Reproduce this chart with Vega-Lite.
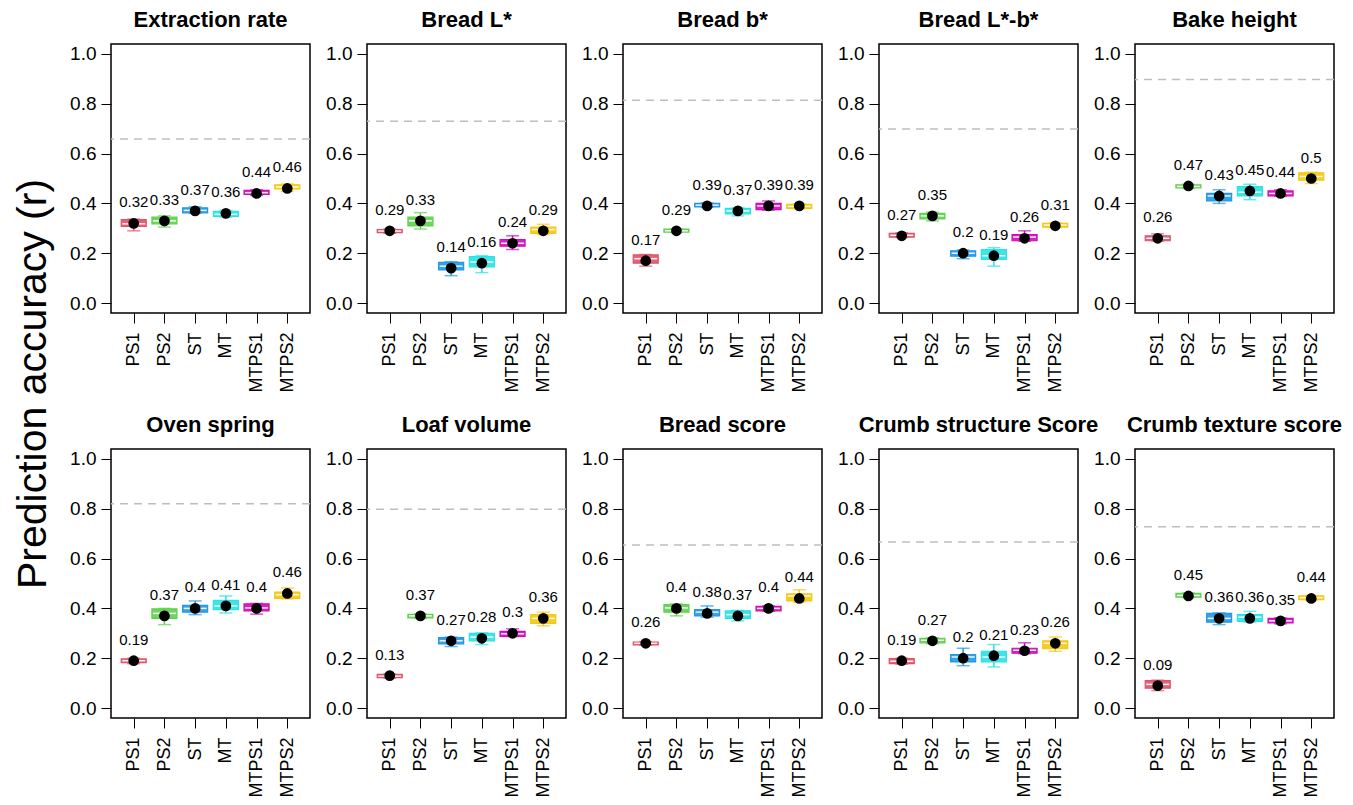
{
  "$schema": "https://vega.github.io/schema/vega-lite/v6.json",
  "background": "white",
  "padding": {"left": 12, "top": 8, "right": 5, "bottom": 2},
  "title": {"text": "Prediction accuracy (r)", "orient": "left", "anchor": "middle", "fontSize": 41, "fontWeight": "normal", "font": "Liberation Sans", "color": "black", "offset": 14, "dx": 19},
  "config": {
    "font": "Liberation Sans",
    "view": {"stroke": "black", "strokeWidth": 1.5},
    "axis": {"labelColor": "black", "tickColor": "black", "labelFont": "Liberation Sans", "grid": false, "domain": false}
  },
  "data": {"values": [
    {"trait": "Extraction rate", "model": "PS1", "lo": 0.29, "q1": 0.308, "med": 0.318, "q3": 0.335, "hi": 0.337, "mean": 0.32, "h": 0.659},
    {"trait": "Extraction rate", "model": "PS2", "lo": 0.305, "q1": 0.318, "med": 0.33, "q3": 0.345, "hi": 0.35, "mean": 0.33, "h": 0.659},
    {"trait": "Extraction rate", "model": "ST", "lo": 0.36, "q1": 0.362, "med": 0.372, "q3": 0.382, "hi": 0.386, "mean": 0.37, "h": 0.659},
    {"trait": "Extraction rate", "model": "MT", "lo": 0.345, "q1": 0.348, "med": 0.356, "q3": 0.368, "hi": 0.372, "mean": 0.36, "h": 0.659},
    {"trait": "Extraction rate", "model": "MTPS1", "lo": 0.432, "q1": 0.436, "med": 0.443, "q3": 0.452, "hi": 0.455, "mean": 0.44, "h": 0.659},
    {"trait": "Extraction rate", "model": "MTPS2", "lo": 0.448, "q1": 0.458, "med": 0.466, "q3": 0.475, "hi": 0.478, "mean": 0.46, "h": 0.659},

    {"trait": "Bread L*", "model": "PS1", "lo": 0.28, "q1": 0.283, "med": 0.289, "q3": 0.295, "hi": 0.297, "mean": 0.29, "h": 0.73},
    {"trait": "Bread L*", "model": "PS2", "lo": 0.297, "q1": 0.31, "med": 0.33, "q3": 0.345, "hi": 0.363, "mean": 0.33, "h": 0.73},
    {"trait": "Bread L*", "model": "ST", "lo": 0.11, "q1": 0.133, "med": 0.148, "q3": 0.163, "hi": 0.166, "mean": 0.14, "h": 0.73},
    {"trait": "Bread L*", "model": "MT", "lo": 0.122, "q1": 0.145, "med": 0.165, "q3": 0.186, "hi": 0.19, "mean": 0.16, "h": 0.73},
    {"trait": "Bread L*", "model": "MTPS1", "lo": 0.215, "q1": 0.228, "med": 0.24, "q3": 0.255, "hi": 0.27, "mean": 0.24, "h": 0.73},
    {"trait": "Bread L*", "model": "MTPS2", "lo": 0.275, "q1": 0.28, "med": 0.295, "q3": 0.305, "hi": 0.316, "mean": 0.29, "h": 0.73},

    {"trait": "Bread b*", "model": "PS1", "lo": 0.148, "q1": 0.16, "med": 0.178, "q3": 0.193, "hi": 0.195, "mean": 0.17, "h": 0.814},
    {"trait": "Bread b*", "model": "PS2", "lo": 0.283, "q1": 0.285, "med": 0.29, "q3": 0.297, "hi": 0.298, "mean": 0.29, "h": 0.814},
    {"trait": "Bread b*", "model": "ST", "lo": 0.384, "q1": 0.386, "med": 0.393, "q3": 0.4, "hi": 0.402, "mean": 0.39, "h": 0.814},
    {"trait": "Bread b*", "model": "MT", "lo": 0.35, "q1": 0.358, "med": 0.37, "q3": 0.38, "hi": 0.382, "mean": 0.37, "h": 0.814},
    {"trait": "Bread b*", "model": "MTPS1", "lo": 0.373, "q1": 0.375, "med": 0.39, "q3": 0.4, "hi": 0.41, "mean": 0.39, "h": 0.814},
    {"trait": "Bread b*", "model": "MTPS2", "lo": 0.378, "q1": 0.38, "med": 0.388, "q3": 0.396, "hi": 0.398, "mean": 0.39, "h": 0.814},

    {"trait": "Bread L*-b*", "model": "PS1", "lo": 0.263, "q1": 0.265, "med": 0.272, "q3": 0.28, "hi": 0.282, "mean": 0.27, "h": 0.699},
    {"trait": "Bread L*-b*", "model": "PS2", "lo": 0.33, "q1": 0.338, "med": 0.35, "q3": 0.36, "hi": 0.365, "mean": 0.35, "h": 0.699},
    {"trait": "Bread L*-b*", "model": "ST", "lo": 0.178, "q1": 0.188, "med": 0.2, "q3": 0.21, "hi": 0.213, "mean": 0.2, "h": 0.699},
    {"trait": "Bread L*-b*", "model": "MT", "lo": 0.148, "q1": 0.175, "med": 0.19, "q3": 0.215, "hi": 0.222, "mean": 0.19, "h": 0.699},
    {"trait": "Bread L*-b*", "model": "MTPS1", "lo": 0.248, "q1": 0.25, "med": 0.265, "q3": 0.275, "hi": 0.29, "mean": 0.26, "h": 0.699},
    {"trait": "Bread L*-b*", "model": "MTPS2", "lo": 0.303, "q1": 0.305, "med": 0.313, "q3": 0.32, "hi": 0.322, "mean": 0.31, "h": 0.699},

    {"trait": "Bake height", "model": "PS1", "lo": 0.248, "q1": 0.25, "med": 0.26, "q3": 0.27, "hi": 0.278, "mean": 0.26, "h": 0.897},
    {"trait": "Bake height", "model": "PS2", "lo": 0.46, "q1": 0.462, "med": 0.468, "q3": 0.475, "hi": 0.477, "mean": 0.47, "h": 0.897},
    {"trait": "Bake height", "model": "ST", "lo": 0.4, "q1": 0.41, "med": 0.43, "q3": 0.44, "hi": 0.455, "mean": 0.43, "h": 0.897},
    {"trait": "Bake height", "model": "MT", "lo": 0.415, "q1": 0.43, "med": 0.445, "q3": 0.467, "hi": 0.477, "mean": 0.45, "h": 0.897},
    {"trait": "Bake height", "model": "MTPS1", "lo": 0.428, "q1": 0.43, "med": 0.44, "q3": 0.45, "hi": 0.455, "mean": 0.44, "h": 0.897},
    {"trait": "Bake height", "model": "MTPS2", "lo": 0.48, "q1": 0.493, "med": 0.508, "q3": 0.523, "hi": 0.525, "mean": 0.5, "h": 0.897},

    {"trait": "Oven spring", "model": "PS1", "lo": 0.178, "q1": 0.182, "med": 0.19, "q3": 0.197, "hi": 0.2, "mean": 0.19, "h": 0.82},
    {"trait": "Oven spring", "model": "PS2", "lo": 0.335, "q1": 0.36, "med": 0.38, "q3": 0.398, "hi": 0.4, "mean": 0.37, "h": 0.82},
    {"trait": "Oven spring", "model": "ST", "lo": 0.375, "q1": 0.385, "med": 0.4, "q3": 0.412, "hi": 0.43, "mean": 0.4, "h": 0.82},
    {"trait": "Oven spring", "model": "MT", "lo": 0.382, "q1": 0.395, "med": 0.41, "q3": 0.432, "hi": 0.45, "mean": 0.41, "h": 0.82},
    {"trait": "Oven spring", "model": "MTPS1", "lo": 0.377, "q1": 0.39, "med": 0.402, "q3": 0.418, "hi": 0.42, "mean": 0.4, "h": 0.82},
    {"trait": "Oven spring", "model": "MTPS2", "lo": 0.438, "q1": 0.44, "med": 0.455, "q3": 0.465, "hi": 0.482, "mean": 0.46, "h": 0.82},

    {"trait": "Loaf volume", "model": "PS1", "lo": 0.12, "q1": 0.122, "med": 0.128, "q3": 0.135, "hi": 0.136, "mean": 0.13, "h": 0.798},
    {"trait": "Loaf volume", "model": "PS2", "lo": 0.36, "q1": 0.362, "med": 0.37, "q3": 0.376, "hi": 0.378, "mean": 0.37, "h": 0.798},
    {"trait": "Loaf volume", "model": "ST", "lo": 0.247, "q1": 0.258, "med": 0.27, "q3": 0.283, "hi": 0.285, "mean": 0.27, "h": 0.798},
    {"trait": "Loaf volume", "model": "MT", "lo": 0.255, "q1": 0.27, "med": 0.285, "q3": 0.3, "hi": 0.302, "mean": 0.28, "h": 0.798},
    {"trait": "Loaf volume", "model": "MTPS1", "lo": 0.287, "q1": 0.288, "med": 0.298, "q3": 0.308, "hi": 0.318, "mean": 0.3, "h": 0.798},
    {"trait": "Loaf volume", "model": "MTPS2", "lo": 0.33, "q1": 0.34, "med": 0.36, "q3": 0.375, "hi": 0.385, "mean": 0.36, "h": 0.798},

    {"trait": "Bread score", "model": "PS1", "lo": 0.252, "q1": 0.253, "med": 0.26, "q3": 0.265, "hi": 0.267, "mean": 0.26, "h": 0.655},
    {"trait": "Bread score", "model": "PS2", "lo": 0.37, "q1": 0.385, "med": 0.402, "q3": 0.415, "hi": 0.418, "mean": 0.4, "h": 0.655},
    {"trait": "Bread score", "model": "ST", "lo": 0.365, "q1": 0.37, "med": 0.385, "q3": 0.395, "hi": 0.41, "mean": 0.38, "h": 0.655},
    {"trait": "Bread score", "model": "MT", "lo": 0.35, "q1": 0.36, "med": 0.375, "q3": 0.39, "hi": 0.392, "mean": 0.37, "h": 0.655},
    {"trait": "Bread score", "model": "MTPS1", "lo": 0.388, "q1": 0.39, "med": 0.4, "q3": 0.408, "hi": 0.41, "mean": 0.4, "h": 0.655},
    {"trait": "Bread score", "model": "MTPS2", "lo": 0.425, "q1": 0.43, "med": 0.45, "q3": 0.458, "hi": 0.475, "mean": 0.44, "h": 0.655},

    {"trait": "Crumb structure Score", "model": "PS1", "lo": 0.176, "q1": 0.178, "med": 0.188, "q3": 0.198, "hi": 0.2, "mean": 0.19, "h": 0.667},
    {"trait": "Crumb structure Score", "model": "PS2", "lo": 0.258, "q1": 0.262, "med": 0.272, "q3": 0.28, "hi": 0.282, "mean": 0.27, "h": 0.667},
    {"trait": "Crumb structure Score", "model": "ST", "lo": 0.17, "q1": 0.185, "med": 0.205, "q3": 0.215, "hi": 0.24, "mean": 0.2, "h": 0.667},
    {"trait": "Crumb structure Score", "model": "MT", "lo": 0.165, "q1": 0.185, "med": 0.205, "q3": 0.228, "hi": 0.255, "mean": 0.21, "h": 0.667},
    {"trait": "Crumb structure Score", "model": "MTPS1", "lo": 0.218, "q1": 0.22, "med": 0.232, "q3": 0.24, "hi": 0.262, "mean": 0.23, "h": 0.667},
    {"trait": "Crumb structure Score", "model": "MTPS2", "lo": 0.228, "q1": 0.238, "med": 0.26, "q3": 0.27, "hi": 0.285, "mean": 0.26, "h": 0.667},

    {"trait": "Crumb texture score", "model": "PS1", "lo": 0.07, "q1": 0.08, "med": 0.095, "q3": 0.11, "hi": 0.112, "mean": 0.09, "h": 0.728},
    {"trait": "Crumb texture score", "model": "PS2", "lo": 0.443, "q1": 0.445, "med": 0.452, "q3": 0.46, "hi": 0.462, "mean": 0.45, "h": 0.728},
    {"trait": "Crumb texture score", "model": "ST", "lo": 0.335, "q1": 0.345, "med": 0.36, "q3": 0.38, "hi": 0.382, "mean": 0.36, "h": 0.728},
    {"trait": "Crumb texture score", "model": "MT", "lo": 0.345, "q1": 0.348, "med": 0.365, "q3": 0.375, "hi": 0.388, "mean": 0.36, "h": 0.728},
    {"trait": "Crumb texture score", "model": "MTPS1", "lo": 0.338, "q1": 0.342, "med": 0.35, "q3": 0.36, "hi": 0.362, "mean": 0.35, "h": 0.728},
    {"trait": "Crumb texture score", "model": "MTPS2", "lo": 0.433, "q1": 0.435, "med": 0.443, "q3": 0.45, "hi": 0.452, "mean": 0.44, "h": 0.728}
  ]},
  "facet": {
    "field": "trait", "type": "nominal",
    "sort": ["Extraction rate", "Bread L*", "Bread b*", "Bread L*-b*", "Bake height", "Oven spring", "Loaf volume", "Bread score", "Crumb structure Score", "Crumb texture score"],
    "header": {"title": null, "labelFontSize": 22, "labelFontWeight": "bold", "labelFont": "Liberation Sans", "labelColor": "black", "labelPadding": 12}
  },
  "columns": 5,
  "bounds": "flush",
  "spacing": {"column": 57, "row": 136},
  "resolve": {"axis": {"x": "independent", "y": "independent"}},
  "spec": {
    "width": 199,
    "height": 269,
    "encoding": {
      "x": {"field": "model", "type": "nominal", "sort": ["PS1", "PS2", "ST", "MT", "MTPS1", "MTPS2"],
            "scale": {"type": "point", "padding": 0.74},
            "axis": {"title": null, "labelAngle": 270, "labelFontSize": 18, "tickSize": 10, "labelPadding": 9, "labelAlign": "right", "labelBaseline": "middle"}},
      "color": {"field": "model", "type": "nominal", "sort": ["PS1", "PS2", "ST", "MT", "MTPS1", "MTPS2"],
            "scale": {"domain": ["PS1", "PS2", "ST", "MT", "MTPS1", "MTPS2"], "range": ["#DF536B", "#61D04F", "#2297E6", "#28E2E5", "#CD0BBC", "#F5C710"]},
            "legend": null}
    },
    "layer": [
      {
        "mark": {"type": "rule", "color": "#BEBEBE", "strokeDash": [8, 6], "strokeWidth": 1.5},
        "encoding": {
          "x": null, "color": null,
          "y": {"field": "h", "aggregate": "mean", "type": "quantitative",
                "scale": {"domain": [-0.04, 1.04], "nice": false, "zero": false},
                "axis": {"title": null, "values": [0, 0.2, 0.4, 0.6, 0.8, 1.0], "format": ".1f", "labelFontSize": 19, "tickSize": 10, "labelPadding": 5}}
        }
      },
      {
        "mark": {"type": "rule", "strokeWidth": 1.5},
        "encoding": {"y": {"field": "lo", "type": "quantitative"}, "y2": {"field": "hi"}}
      },
      {
        "mark": {"type": "tick", "orient": "horizontal", "size": 13, "thickness": 1.5},
        "encoding": {"y": {"field": "lo", "type": "quantitative"}}
      },
      {
        "mark": {"type": "tick", "orient": "horizontal", "size": 13, "thickness": 1.5},
        "encoding": {"y": {"field": "hi", "type": "quantitative"}}
      },
      {
        "mark": {"type": "bar", "size": 25, "fillOpacity": 0.9, "strokeWidth": 1.2},
        "encoding": {"y": {"field": "q1", "type": "quantitative"}, "y2": {"field": "q3"}, "stroke": {"field": "model", "type": "nominal", "scale": {"domain": ["PS1", "PS2", "ST", "MT", "MTPS1", "MTPS2"], "range": ["#DF536B", "#61D04F", "#2297E6", "#28E2E5", "#CD0BBC", "#F5C710"]}, "legend": null}}
      },
      {
        "mark": {"type": "tick", "orient": "horizontal", "size": 23, "thickness": 1.5, "color": "white", "opacity": 0.9},
        "encoding": {"color": null, "y": {"field": "med", "type": "quantitative"}}
      },
      {
        "mark": {"type": "point", "filled": true, "size": 115, "color": "black", "opacity": 1},
        "encoding": {"color": null, "y": {"field": "mean", "type": "quantitative"}}
      },
      {
        "mark": {"type": "text", "fontSize": 15, "dy": -21, "color": "black", "font": "Liberation Sans"},
        "encoding": {"color": null, "y": {"field": "mean", "type": "quantitative"}, "text": {"field": "mean", "type": "quantitative", "format": ".2~f"}}
      }
    ]
  }
}
